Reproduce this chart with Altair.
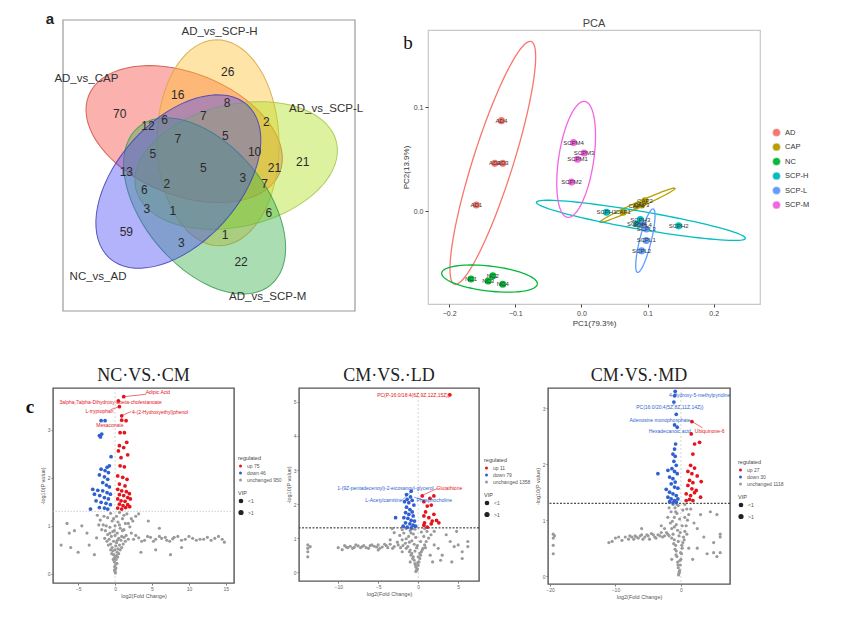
import altair as alt
import numpy as np
import pandas as pd

SANS = "Liberation Sans"
SERIF = "Liberation Serif"

# ---------------- panel a : Venn diagram ----------------
venn_sets = ["AD_vs_CAP", "AD_vs_SCP-H", "AD_vs_SCP-L", "AD_vs_SCP-M", "NC_vs_AD"]
venn_cx = [41.5, 53.1, 59.3, 48.5, 39.5]
venn_cy = [39.2, 42.2, 50.0, 63.9, 55.5]
venn_angle = [22, 89, 167, 50, 132]
venn_fill = ["#F5463C", "#FFBE2D", "#AFE119", "#37AF4B", "#4B4BF5"]
venn_edge = ["#D0584A", "#D8A848", "#A8C850", "#3F9E58", "#4646B8"]
venn_label_x = [8.0, 53.6, 90.1, 70.1, 12.0]
venn_label_y = [20.3, 4.1, 30.6, 95.1, 88.2]
venn_counts = [70, 16, 26, 8, 12, 6, 7, 2, 7, 5, 5, 10, 21, 21, 13, 5, 3, 6, 2, 7, 3, 1, 6, 59, 3, 1, 22]
venn_count_x = [19.4, 39.3, 56.4, 56.2, 29.1, 34.8, 48.1, 69.6, 39.3, 55.6, 30.8, 65.6, 72.4, 82.1,
                21.7, 48.1, 61.6, 27.9, 35.6, 69.0, 28.7, 37.6, 70.5, 21.7, 40.5, 55.5, 61.0]
venn_count_y = [32.3, 25.8, 18.0, 28.5, 36.5, 34.2, 32.9, 34.9, 40.9, 39.7, 46.0, 45.4, 50.9, 48.9,
                52.1, 50.9, 54.3, 58.3, 56.4, 56.4, 64.8, 65.6, 66.2, 72.8, 76.5, 74.0, 83.1]
venn_box = {"x": [0], "x2": [100], "y": [0], "y2": [100]}
VENN_A, VENN_B = 103, 61

# ---------------- panel b : PCA ----------------
pca_groups = ["AD", "CAP", "NC", "SCP-H", "SCP-L", "SCP-M"]
pca_colors = ["#F8766D", "#B79F00", "#00BA38", "#00BFC4", "#619CFF", "#F564E3"]
pca_sample = ["AD4", "AD2", "AD3", "AD1", "CAP1", "CAP2", "CAP3", "CAP4", "NC1", "NC2", "NC3", "NC4",
              "SCPH1", "SCPH3", "SCPH4", "SCPH2", "SCPL3", "SCPL1", "SCPL2", "SCPL4",
              "SCPM4", "SCPM3", "SCPM1", "SCPM2"]
pca_group = ["AD"] * 4 + ["CAP"] * 4 + ["NC"] * 4 + ["SCP-H"] * 4 + ["SCP-L"] * 4 + ["SCP-M"] * 4
pca_pc1 = [-0.121, -0.131, -0.119, -0.159, 0.063, 0.096, 0.091, 0.083, -0.167, -0.134, -0.141, -0.119,
           0.038, 0.089, 0.084, 0.147, 0.098, 0.098, 0.091, 0.092, -0.012, 0.004, -0.006, -0.015]
pca_pc2 = [0.087, 0.046, 0.046, 0.006, -0.001, 0.010, 0.006, 0.005, -0.065, -0.062, -0.067, -0.070,
           -0.001, -0.008, -0.012, -0.014, -0.017, -0.028, -0.038, -0.013, 0.066, 0.056, 0.050, 0.028]
# confidence ellipses: centre and two conjugate semi-axis vectors
pca_ell_cx = [-0.134, 0.0848, -0.139, 0.090, 0.0967, -0.008]
pca_ell_cy = [0.0465, 0.0058, -0.0646, -0.0087, -0.0282, 0.0498]
pca_ell_ax = [0.058, 0.0568, 0.0723, 0.158, 0.0119, 0.01315]
pca_ell_ay = [0.1165, 0.01635, -0.0053, -0.0173, 0.0305, 0.0556]
pca_ell_bx = [0.0289, 0.0031, 0.0022, 0.0021, 0.0085, 0.0262]
pca_ell_by = [-0.0058, -0.0021, 0.0119, 0.0085, -0.0013, -0.0025]

# ---------------- panel c : volcano plots ----------------
v1_up = [(1.17, 3.69), (0.45, 3.60), (0.59, 3.48), (0.90, 3.29), (0.90, 3.20), (1.49, 3.19), (0.68, 2.94),
         (1.26, 2.94), (1.58, 2.74), (0.59, 2.67), (1.17, 2.63), (0.45, 2.56), (1.71, 2.48), (0.81, 2.42),
         (0.68, 2.25), (1.26, 2.23), (0.36, 2.04), (1.04, 2.01), (1.62, 1.97), (0.59, 1.87), (1.35, 1.83),
         (0.36, 1.76), (0.90, 1.73), (1.53, 1.71), (1.94, 1.67), (0.59, 1.65), (1.17, 1.63), (1.71, 1.59),
         (0.36, 1.56), (0.81, 1.52), (1.35, 1.51), (2.07, 1.56), (0.59, 1.45), (1.08, 1.42), (1.71, 1.44),
         (0.36, 1.37), (0.90, 1.35), (1.44, 1.38), (1.98, 1.40)]
v1_dn = [(-1.89, 3.19), (-1.35, 3.19), (-2.12, 2.88), (-1.80, 2.91), (-1.98, 2.85), (-0.54, 2.44),
         (-0.77, 2.25), (-1.08, 2.22), (-1.89, 2.18), (-1.35, 2.15), (-0.90, 2.11), (-2.12, 2.06),
         (-1.44, 2.02), (-0.99, 1.97), (-1.67, 1.90), (-1.17, 1.85), (-0.77, 1.81), (-3.02, 1.76),
         (-2.34, 1.74), (-1.67, 1.73), (-1.08, 1.69), (-0.63, 1.66), (-2.79, 1.66), (-2.07, 1.63),
         (-1.44, 1.59), (-0.90, 1.56), (-2.57, 1.52), (-1.89, 1.49), (-1.22, 1.47), (-0.63, 1.44),
         (-3.33, 1.35), (-2.12, 1.38), (-1.44, 1.37), (-0.99, 1.35)]
v1_ns = [(0, 0.05), (0.05, 0.1), (-0.05, 0.15), (0.1, 0.2), (-0.1, 0.25), (0.15, 0.3), (-0.15, 0.32),
         (0.2, 0.38), (-0.2, 0.4), (0.3, 0.45), (-0.3, 0.48), (0.0, 0.5), (0.4, 0.52), (-0.4, 0.55),
         (0.1, 0.58), (0.6, 0.6), (-0.6, 0.62), (0.2, 0.65), (-0.2, 0.68), (0.8, 0.7), (-0.8, 0.72),
         (0.5, 0.74), (1.2, 0.76), (-0.5, 0.78), (0.0, 0.8), (1.5, 0.8), (-1.0, 0.82), (0.3, 0.85),
         (-0.3, 0.88), (1.0, 0.9), (-1.3, 0.9), (0.7, 0.95), (-0.7, 0.97), (2.0, 0.98), (0.0, 1.0),
         (-1.6, 1.02), (1.4, 1.05), (0.4, 1.08), (-0.4, 1.1), (2.4, 1.1), (-2.0, 1.12), (1.0, 1.15),
         (-1.0, 1.17), (0.2, 1.2), (2.8, 1.2), (-2.4, 1.22), (1.6, 1.25), (-0.6, 1.26), (0.6, 1.28),
         (3.2, 1.25), (2.5, 0.72), (3.2, 0.75), (4.0, 0.7), (4.8, 0.76), (5.5, 0.72), (6.3, 0.74),
         (7.0, 0.7), (7.8, 0.73), (8.5, 0.78), (9.5, 0.72), (10.5, 0.74), (11.5, 0.72), (12.5, 0.76),
         (13.5, 0.74), (14.5, 0.72), (14.8, 0.66), (-6.5, 1.05), (-5.5, 0.9), (-6.2, 0.85), (-4.5, 1.0),
         (-3.8, 0.85), (-7.3, 0.6), (-6.0, 0.55), (-3.5, 0.6), (-2.5, 0.75), (-5.0, 0.45), (-2.8, 0.4),
         (3.5, 0.45), (5.5, 0.5), (7.5, 0.4), (9.0, 0.55), (4.5, 1.1), (6.0, 0.95),
         (0.05, 0.02), (-0.08, 0.08), (0.12, 0.12), (0.0, 0.35), (0.25, 0.22), (-0.25, 0.3), (0.35, 0.35),
         (0.5, 0.42), (-0.45, 0.42), (0.7, 0.5), (-0.6, 0.5), (0.9, 0.55), (-0.9, 0.6), (1.1, 0.62),
         (0.3, 0.7), (-1.1, 0.68), (1.4, 0.68), (-1.4, 0.74), (1.8, 0.72), (-0.1, 0.9), (1.2, 0.92),
         (-1.8, 0.92), (2.2, 0.85), (0.6, 1.02), (-1.2, 1.0), (1.8, 1.05), (-2.2, 1.02), (2.2, 1.15),
         (-1.5, 1.2), (1.2, 1.22), (-0.2, 1.15), (0.9, 0.78), (-0.7, 0.85), (2.8, 0.8), (3.6, 0.68),
         (4.4, 0.78), (5.2, 0.68), (6.0, 0.78), (6.8, 0.76), (7.4, 0.68), (8.0, 0.76), (9.0, 0.7),
         (10.0, 0.78), (11.0, 0.7), (12.0, 0.72), (13.0, 0.7), (14.0, 0.78)]

v2_up = [(3.96, 5.21), (0.50, 2.24), (0.71, 2.07), (1.46, 2.17), (1.96, 2.24), (1.13, 1.94), (1.63, 1.97),
         (0.92, 1.77), (0.71, 1.65), (1.33, 1.60), (1.96, 1.70), (1.75, 1.50), (2.29, 1.52), (0.71, 1.38),
         (1.13, 1.32), (1.63, 1.42), (2.58, 1.45), (0.79, 1.45)]
v2_dn = [(-0.96, 2.21), (-1.38, 2.14), (-1.71, 2.07), (-1.17, 2.04), (-0.75, 2.11), (-0.54, 1.97),
         (-1.46, 1.91), (-1.04, 1.84), (-0.75, 1.77), (-1.58, 1.75), (-1.17, 1.70), (-0.63, 1.65),
         (-1.79, 1.60), (-1.29, 1.58), (-0.88, 1.52), (-0.46, 1.50), (-2.83, 1.60), (-1.58, 1.45),
         (-1.04, 1.42), (-0.63, 1.38), (-1.88, 1.35), (-1.38, 1.32), (-0.88, 1.30), (-0.33, 1.35),
         (-0.88, 2.38), (-1.46, 2.28)]
v2_ns = [(-0.2, 0.05), (-0.1, 0.1), (-0.3, 0.15), (0.0, 0.2), (-0.4, 0.25), (0.1, 0.3), (-0.5, 0.35),
         (0.2, 0.4), (-0.6, 0.45), (0.3, 0.5), (-0.8, 0.55), (0.4, 0.6), (-1.0, 0.65), (0.6, 0.7),
         (-0.2, 0.72), (-1.3, 0.75), (0.8, 0.8), (-0.5, 0.82), (-1.6, 0.85), (1.0, 0.9), (-0.8, 0.92),
         (-2.0, 0.95), (1.3, 1.0), (-0.3, 1.02), (-1.2, 1.05), (1.6, 1.1), (-0.6, 1.12), (-1.8, 1.15),
         (0.4, 1.18), (-1.0, 1.22), (2.0, 1.2), (-0.4, 1.26), (-1.5, 1.28), (0.8, 1.28), (-2.5, 0.8),
         (-3.0, 0.75), (-3.5, 0.82), (-4.0, 0.78), (-4.5, 0.74), (-5.0, 0.8), (-5.5, 0.76), (-6.0, 0.78),
         (-6.5, 0.72), (-7.0, 0.75), (-7.5, 0.77), (-8.0, 0.73), (-8.5, 0.76), (-9.0, 0.74), (-10.0, 0.72),
         (-9.5, 0.66), (-3.5, 0.95), (-5.0, 0.65), (-2.0, 0.6), (-13.8, 0.8), (-13.8, 0.7), (-13.5, 0.75),
         (-13.8, 0.6), (-13.8, 0.45), (2.5, 0.7), (3.0, 0.5), (4.0, 0.9), (4.5, 0.75), (5.0, 0.8),
         (5.5, 0.6), (6.2, 0.9), (6.2, 0.75), (3.5, 1.1), (4.8, 1.2), (2.8, 0.35), (5.5, 0.4), (4.2, 0.3),
         (-3.25, 1.28), (-3.0, 1.16),
         (-0.3, 0.02), (-0.15, 0.08), (-0.35, 0.22), (-0.05, 0.28), (-0.7, 0.4), (0.0, 0.45), (-0.9, 0.5),
         (0.2, 0.55), (-1.1, 0.6), (-0.4, 0.62), (0.5, 0.65), (-1.5, 0.7), (-0.1, 0.78), (-1.9, 0.78),
         (0.9, 0.72), (-2.2, 0.72), (-1.1, 0.88), (0.3, 0.9), (-2.6, 0.88), (-1.5, 0.98), (0.7, 1.05),
         (-2.3, 1.08), (-0.9, 1.15), (1.1, 1.2), (-2.0, 1.25), (-0.7, 1.28), (-3.2, 0.7), (-3.8, 0.72),
         (-4.2, 0.82), (-4.8, 0.7), (-5.2, 0.74), (-5.8, 0.8), (-6.2, 0.7), (-6.8, 0.78), (-7.2, 0.72),
         (-7.8, 0.8), (-8.2, 0.7), (-8.8, 0.72), (-9.2, 0.78), (1.5, 0.5), (2.0, 0.8), (1.8, 0.3),
         (-1.0, 0.3)]

v3_up = [(1.68, 2.76), (1.58, 2.54), (2.85, 2.39), (2.09, 2.36), (1.83, 2.18), (1.48, 1.98), (2.09, 1.93),
         (1.07, 1.87), (1.68, 1.83), (2.49, 1.79), (1.32, 1.71), (1.83, 1.67), (3.10, 1.69), (1.07, 1.62),
         (1.68, 1.56), (2.34, 1.53), (0.81, 1.47), (1.48, 1.44), (2.09, 1.49), (3.00, 1.41), (0.81, 1.35),
         (1.32, 1.37), (1.83, 1.35)]
v3_dn = [(-0.87, 3.30), (-0.97, 3.22), (-1.07, 3.11), (-0.71, 2.89), (-0.97, 2.70), (-0.56, 2.66),
         (-0.81, 2.36), (-0.97, 2.27), (-1.22, 2.18), (-0.87, 2.14), (-1.07, 2.05), (-0.71, 1.98),
         (-1.37, 1.92), (-0.97, 1.87), (-0.56, 1.83), (-3.51, 1.83), (-1.98, 1.89), (-1.73, 1.77),
         (-1.22, 1.74), (-0.87, 1.68), (-1.48, 1.65), (-0.97, 1.59), (-0.46, 1.57), (-2.24, 1.55),
         (-1.73, 1.50), (-1.22, 1.47), (-0.71, 1.44), (-1.98, 1.41), (-1.48, 1.38), (-0.97, 1.35),
         (-0.46, 1.38), (-1.73, 1.33), (-1.22, 1.31), (-0.71, 1.32)]
v3_ns = [(-0.3, 0.05), (-0.2, 0.1), (-0.4, 0.15), (-0.1, 0.2), (-0.5, 0.25), (0.0, 0.3), (-0.6, 0.35),
         (0.1, 0.4), (-0.7, 0.45), (0.2, 0.5), (-0.8, 0.55), (0.3, 0.6), (-1.0, 0.65), (0.4, 0.7),
         (-0.3, 0.72), (-1.2, 0.75), (0.6, 0.8), (-0.5, 0.82), (-1.4, 0.85), (0.8, 0.9), (-0.7, 0.92),
         (-1.6, 0.95), (1.0, 1.0), (-0.2, 1.02), (-1.0, 1.05), (1.2, 1.1), (-0.6, 1.12), (-1.5, 1.15),
         (0.3, 1.18), (-0.9, 1.22), (1.5, 1.2), (-0.4, 1.26), (-1.2, 1.28), (0.6, 1.28), (-2.0, 0.75),
         (-2.5, 0.72), (-3.0, 0.78), (-3.5, 0.74), (-4.0, 0.7), (-4.5, 0.76), (-5.0, 0.72), (-5.5, 0.7),
         (-6.0, 0.74), (-6.5, 0.68), (-7.0, 0.72), (-7.5, 0.7), (-8.0, 0.66), (-8.5, 0.7), (-9.0, 0.64),
         (-10.0, 0.68), (-11.0, 0.6), (-6.0, 0.85), (-3.0, 0.9), (-19.5, 0.75), (-19.3, 0.72),
         (-19.5, 0.68), (-19.5, 0.55), (-19.5, 0.4), (2.0, 0.95), (3.0, 1.1), (4.5, 1.15), (5.5, 1.1),
         (2.5, 0.5), (4.0, 0.4), (5.0, 0.42), (5.5, 0.35), (6.0, 0.42), (3.5, 0.7), (6.0, 0.7),
         (6.0, 0.75), (5.0, 0.6),
         (-0.35, 0.02), (-0.25, 0.08), (-0.45, 0.2), (-0.15, 0.28), (-0.75, 0.38), (-0.05, 0.42),
         (-0.9, 0.48), (0.15, 0.55), (-1.1, 0.58), (-0.4, 0.62), (0.5, 0.65), (-1.4, 0.68), (-0.1, 0.78),
         (-1.8, 0.72), (0.9, 0.75), (-2.2, 0.78), (-1.0, 0.88), (0.2, 0.9), (-2.5, 0.85), (-1.3, 0.98),
         (0.6, 1.05), (-2.0, 1.05), (-0.8, 1.15), (0.9, 1.2), (-1.8, 1.22), (-0.6, 1.28), (-2.8, 0.7),
         (-3.2, 0.72), (-3.8, 0.68), (-4.2, 0.74), (-4.8, 0.66), (-5.2, 0.74), (-5.8, 0.66), (-6.2, 0.72),
         (-6.8, 0.7), (-7.2, 0.66), (-7.8, 0.72), (-9.5, 0.7), (-10.5, 0.62), (1.2, 0.5), (1.8, 0.3),
         (-1.4, 0.3), (2.5, 0.85)]

v1_counts = ["up 75", "down 46", "unchanged 950"]
v2_counts = ["up 11", "down 79", "unchanged 1358"]
v3_counts = ["up 27", "down 30", "unchanged 1118"]

# annotation labels: (text, x, y, colour)
v1_labels = [("Adipic Acid", 5.8, 3.78, "red"),
             ("3alpha,7alpha-Dihydroxy-5beta-cholestanoate", -0.6, 3.58, "red"),
             ("L-tryptophan", -2.1, 3.40, "red"),
             ("4-(2-Hydroxyethyl)phenol", 6.1, 3.38, "red"),
             ("Mesaconate", -0.7, 3.10, "red")]
v1_lines = [(4.2, 3.74, 1.25, 3.69, "red"), (0.2, 3.55, 0.45, 3.60, "red"),
            (-0.6, 3.42, 0.55, 3.48, "red"), (2.2, 3.38, 0.95, 3.30, "red")]
v2_labels = [("PC(P-16:0/18:4(6Z,9Z,12Z,15Z))", -0.6, 5.21, "red"),
             ("1-(9Z-pentadecenoyl)-2-eicosanoyl-glycerol", -4.1, 2.46, "blue"),
             ("Glutathione", 3.9, 2.46, "red"),
             ("L-Acetylcarnitine", -4.3, 2.12, "blue"),
             ("Phosphocholine", 2.0, 2.12, "blue")]
v2_lines = [(2.4, 2.46, 0.55, 2.26, "red"), (0.6, 2.12, -0.5, 2.2, "blue"),
            (-2.0, 2.12, -0.9, 2.36, "blue")]
v3_labels = [("4-Hydroxy-5-methylpyridine", 2.85, 3.24, "blue"),
             ("PC(16:0/20:4(5Z,8Z,11Z,14Z))", -1.7, 3.02, "blue"),
             ("Adenosine monophosphate", -3.2, 2.78, "blue"),
             ("Hexadecanoic acid", -1.7, 2.60, "blue"),
             ("Ubiquinone-6", 4.4, 2.60, "red")]
v3_lines = [(1.7, 2.76, 3.3, 2.65, "red"), (-0.87, 3.24, -0.87, 3.30, "blue"),
            (-1.07, 3.05, -1.07, 3.11, "blue")]

RED, BLUE, GREY = "#E3141C", "#2F5FD0", "#9A9A9A"


def ellipse_path(ratio, n=72):
    t = np.linspace(0, 2 * np.pi, n, endpoint=False)
    pts = [f"{np.cos(a):.4f} {ratio * np.sin(a):.4f}" for a in t]
    return "M " + " L ".join(pts) + " Z"


def note(text, x, y, **kw):
    return alt.Chart(pd.DataFrame({"t": [text]})).mark_text(**kw).encode(
        text="t:N", x=alt.value(x), y=alt.value(y))


# ---------- build Venn ----------
# the view starts 10 px left of and 10 px below the top of the drawn box
vx = alt.X("x:Q", scale=alt.Scale(domain=[-3.42, 100], nice=False, zero=False), axis=None)
vy = alt.Y("y:Q", scale=alt.Scale(domain=[3.436, 100], nice=False, zero=False, reverse=True), axis=None)
box = alt.Chart(pd.DataFrame(venn_box)).mark_rect(
    fillOpacity=0, stroke="#9A9A9A", strokeWidth=1.2).encode(x=vx, x2="x2:Q", y=vy, y2="y2:Q")
ell_df = pd.DataFrame({"x": venn_cx, "y": venn_cy, "angle": venn_angle,
                       "fill": venn_fill, "edge": venn_edge, "set": venn_sets})
venn_ell = alt.Chart(ell_df).mark_point(
    shape=ellipse_path(VENN_B / VENN_A), filled=True, fillOpacity=0.42, strokeOpacity=0.9,
    strokeWidth=1.0, size=4 * VENN_A ** 2, clip=True
).encode(x=vx, y=vy, fill=alt.Fill("fill:N", scale=None),
         stroke=alt.Stroke("edge:N", scale=None), angle=alt.Angle("angle:Q", scale=None))
cnt_df = pd.DataFrame({"x": venn_count_x, "y": venn_count_y, "n": [str(v) for v in venn_counts]})
venn_cnt = alt.Chart(cnt_df).mark_text(font=SANS, fontSize=12, color="#2a2a2a").encode(
    x=vx, y=vy, text="n:N")
lab_df = pd.DataFrame({"x": venn_label_x, "y": venn_label_y, "t": venn_sets})
venn_lab = alt.Chart(lab_df).mark_text(font=SANS, fontSize=11.5, color="#333").encode(
    x=vx, y=vy, text="t:N")
letter_a = note("a", -3, -6, font=SANS, fontSize=15, fontWeight="bold", align="center",
                baseline="alphabetic", color="#222")
venn = alt.layer(box, venn_ell, venn_cnt, venn_lab, letter_a).properties(
    width=302, height=281, view=alt.ViewBackground(stroke="transparent"))

# ---------- build PCA ----------
rows = []
t = np.linspace(0, 2 * np.pi, 91)
for g, col, cx, cy, ax_, ay_, bx_, by_ in zip(pca_groups, pca_colors, pca_ell_cx, pca_ell_cy,
                                                pca_ell_ax, pca_ell_ay, pca_ell_bx, pca_ell_by):
    for i, a in enumerate(t):
        rows.append({"g": g, "col": col, "i": i,
                     "pc1": cx + np.cos(a) * ax_ + np.sin(a) * bx_,
                     "pc2": cy + np.cos(a) * ay_ + np.sin(a) * by_})
ell_lines = pd.DataFrame(rows)
px = alt.X("pc1:Q", scale=alt.Scale(domain=[-0.232, 0.27], nice=False, zero=False),
           axis=alt.Axis(values=[-0.2, -0.1, 0.0, 0.1, 0.2], format=".1f", title="PC1(79.3%)",
                         grid=False, domain=False, tickColor="#444", tickSize=3, labelFontSize=7,
                         titleFontSize=8, labelColor="#444", titleColor="#333", titlePadding=3,
                         labelPadding=2, labelFont=SANS, titleFont=SANS, titleFontWeight="normal"))
py = alt.Y("pc2:Q", scale=alt.Scale(domain=[-0.089, 0.174], nice=False, zero=False),
           axis=alt.Axis(values=[0.0, 0.1], format=".1f", title="PC2(13.9%)",
                         grid=False, domain=False, tickColor="#444", tickSize=3, labelFontSize=7,
                         titleFontSize=8, labelColor="#444", titleColor="#333", titlePadding=3,
                         labelPadding=2, labelFont=SANS, titleFont=SANS, titleFontWeight="normal"))
pca_lines = alt.Chart(ell_lines).mark_line(strokeWidth=1.3).encode(
    x=px, y=py, detail="g:N", order="i:Q", stroke=alt.Stroke("col:N", scale=None))
pts_df = pd.DataFrame({"pc1": pca_pc1, "pc2": pca_pc2, "g": pca_group, "s": pca_sample})
pca_pts = alt.Chart(pts_df).mark_circle(size=50, opacity=1).encode(
    x=px, y=py,
    color=alt.Color("g:N", scale=alt.Scale(domain=pca_groups, range=pca_colors),
                    legend=alt.Legend(title=None, orient="none", legendX=344, legendY=98,
                                      labelFontSize=7.5, labelFont=SANS, labelColor="#333",
                                      symbolSize=60, symbolType="circle", rowPadding=3.5,
                                      symbolStrokeColor="#DDDDDD", symbolStrokeWidth=0.5)))
pca_txt = alt.Chart(pts_df).mark_text(font=SANS, fontSize=6, color="#333").encode(
    x=px, y=py, text="s:N")
letter_b = note("b", -20, 19, font=SERIF, fontSize=19, align="center", baseline="alphabetic", color="#111")
pca = alt.layer(pca_lines, pca_pts, pca_txt, letter_b).properties(
    width=332, height=274,
    title=alt.TitleParams("PCA", font=SANS, fontSize=11, fontWeight="normal", color="#444", offset=1),
    view=alt.ViewBackground(stroke="#C8C8C8", strokeWidth=1.2))


# ---------- build volcano ----------
def volcano(title, up, dn, ns, counts, xdom, ydom, xticks, yticks, w, h, labels, lines,
            thr_dash, thr_color, thr_width, legx, legy, letter=None):
    df = pd.DataFrame(
        [{"x": a, "y": b, "reg": counts[2], "vip": "<1"} for a, b in ns] +
        [{"x": a, "y": b, "reg": counts[1], "vip": ">1"} for a, b in dn] +
        [{"x": a, "y": b, "reg": counts[0], "vip": ">1"} for a, b in up])
    ax_common = dict(grid=False, domain=False, tickSize=2, labelFontSize=5, titleFontSize=5.5,
                     labelColor="#666", titleColor="#555", tickColor="#777", titlePadding=2,
                     labelPadding=1, labelFont=SANS, titleFont=SANS, titleFontWeight="normal")
    X = alt.X("x:Q", scale=alt.Scale(domain=xdom, nice=False, zero=False),
              axis=alt.Axis(values=xticks, title="log2(Fold Change)", **ax_common))
    Y = alt.Y("y:Q", scale=alt.Scale(domain=ydom, nice=False, zero=False),
              axis=alt.Axis(values=yticks, title="-log10(P value)", **ax_common))
    pts = alt.Chart(df).mark_circle(opacity=1).encode(
        x=X, y=Y,
        color=alt.Color("reg:N", scale=alt.Scale(domain=counts, range=[RED, BLUE, GREY]),
                        legend=alt.Legend(title="regulated", orient="none", legendX=legx, legendY=legy,
                                          titleFontSize=5.5, labelFontSize=5, symbolSize=9,
                                          rowPadding=1, titlePadding=2, labelColor="#555",
                                          titleColor="#444", titleFont=SANS, labelFont=SANS,
                                          titleFontWeight="normal", symbolType="circle")),
        size=alt.Size("vip:O", scale=alt.Scale(domain=["<1", ">1"], range=[10, 14]),
                      legend=alt.Legend(title="VIP", orient="none", legendX=legx, legendY=legy + 35,
                                        titleFontSize=5.5, labelFontSize=5, rowPadding=1,
                                        titlePadding=2, labelColor="#555", titleColor="#444",
                                        titleFont=SANS, labelFont=SANS, titleFontWeight="normal",
                                        symbolFillColor="#222", symbolStrokeColor="#222",
                                        symbolType="circle")))
    thr = alt.Chart(pd.DataFrame({"y": [1.301]})).mark_rule(
        strokeDash=thr_dash, color=thr_color, strokeWidth=thr_width).encode(y=Y)
    vline = alt.Chart(pd.DataFrame({"x": [0.0]})).mark_rule(
        strokeDash=[2, 2], color="#BBBBBB", strokeWidth=0.6).encode(x=X)
    ldf = pd.DataFrame([{"t": a, "x": b, "y": c, "col": RED if d == "red" else BLUE} for a, b, c, d in labels])
    txt = alt.Chart(ldf).mark_text(font=SANS, fontSize=5).encode(
        x=X, y=Y, text="t:N", fill=alt.Fill("col:N", scale=None))
    rdf = pd.DataFrame([{"x": a, "y": b, "x2": c, "y2": d, "col": RED if e == "red" else BLUE}
                        for a, b, c, d, e in lines])
    seg = alt.Chart(rdf).mark_rule(strokeWidth=0.6).encode(
        x=X, y=Y, x2="x2:Q", y2="y2:Q", stroke=alt.Stroke("col:N", scale=None))
    layers = [vline, thr, pts, seg, txt]
    if letter:
        layers.append(note(letter, -23, 25, font=SERIF, fontSize=19, fontWeight="bold",
                           align="center", baseline="alphabetic", color="#111"))
    return alt.layer(*layers).properties(
        width=w, height=h,
        title=alt.TitleParams(title, font=SERIF, fontSize=18, fontWeight="normal", color="#222", offset=3),
        view=alt.ViewBackground(stroke="#555555", strokeWidth=1.4)
    )


v1 = volcano("NC·VS.·CM", v1_up, v1_dn, v1_ns, v1_counts, [-8.4, 16.1], [-0.19, 3.87],
             [-5, 0, 5, 10, 15], [0, 1, 2, 3], 181, 195, v1_labels, v1_lines,
             [1.5, 1.5], "#BBBBBB", 0.7, 185, 68, letter="c")
v2 = volcano("CM·VS.·LD", v2_up, v2_dn, v2_ns, v2_counts, [-14.9, 7.6], [-0.26, 5.41],
             [-10, -5, 0, 5], [0, 1, 2, 3, 4, 5], 180, 193, v2_labels, v2_lines,
             [2, 1.5], "#222222", 1.0, 185, 70)
v3 = volcano("CM·VS.·MD", v3_up, v3_dn, v3_ns, v3_counts, [-20.3, 7.5], [-0.14, 3.36],
             [-20, -10, 0], [0, 1, 2, 3], 182, 196, v3_labels, v3_lines,
             [2, 1.5], "#222222", 1.0, 190, 72)

top = alt.hconcat(venn, pca, spacing=37).resolve_scale(
    color="independent").resolve_legend(color="independent")
bottom = alt.hconcat(v1, v2, v3, spacing=2).resolve_scale(
    color="independent", size="independent").resolve_legend(color="independent", size="independent")
chart = alt.vconcat(top, bottom, spacing=38).resolve_scale(
    color="independent", size="independent").resolve_legend(
    color="independent", size="independent").properties(
    padding={"left": 17, "top": 3, "right": 5, "bottom": 5})

chart.save("out.html", embed_options={"renderer": "svg", "actions": False})
